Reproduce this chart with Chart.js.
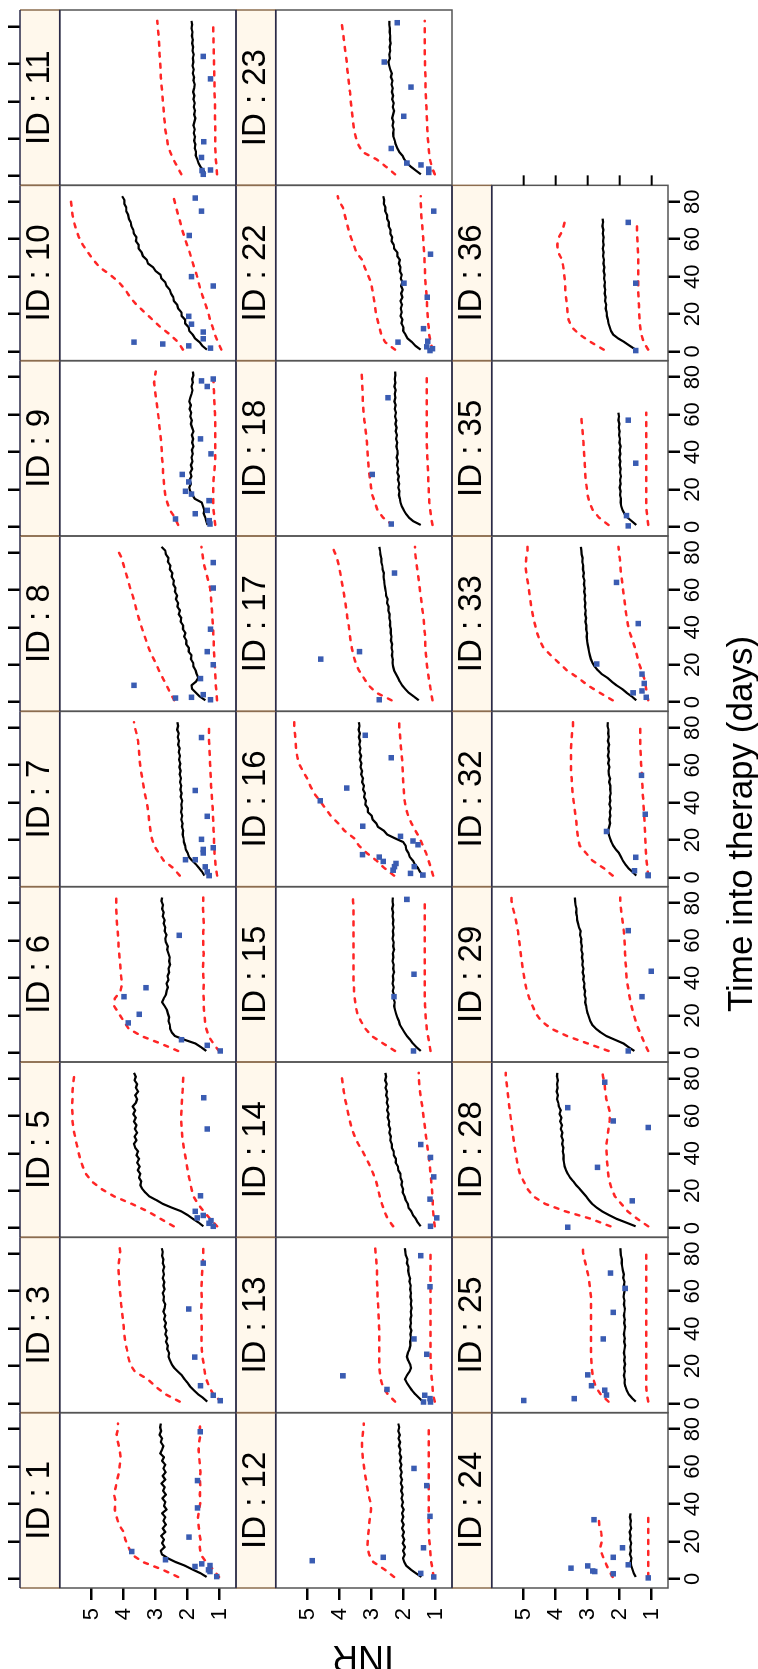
<!DOCTYPE html>
<html><head><meta charset="utf-8">
<script src="https://cdn.jsdelivr.net/npm/chart.js"></script>
<style>
html,body{margin:0;padding:0;background:#fff;}
body{width:758px;height:1669px;overflow:hidden;position:relative;}
#wrap{position:absolute;left:0;top:0;width:1669px;height:758px;transform-origin:0 0;transform:translate(0px,1669px) rotate(-90deg);}
canvas{display:block;}
</style></head><body>
<div id="wrap"><canvas id="c" width="1669" height="758" style="width:1669px;height:758px"></canvas></div>
<script>
// ---------- DATA ----------
const dayGrid = [1,3,5,7,9,11,13,15,17,19,21,23,25,27,29,31,33,35,37,39,41,43,45,47,49,51,53,55,57,59,61,63,65,67,69,71,73,75,77,79,81,83];
const bandDays = [1,5,9,13,17,21,25,29,33,37,41,45,49,53,57,61,65,69,73,77,81,83];
const inrTicks = [1,2,3,4,5];
const timeTicks = [0,20,40,60,80];
const panelRows = [[1,3,5,6,7,8,9,10,11],[12,13,14,15,16,17,18,22,23],[24,25,28,29,32,33,35,36]];

const black_1 = [1.41,1.6,1.85,2.08,2.38,2.62,2.8,2.84,2.72,2.8,2.74,2.83,2.7,2.78,2.68,2.76,2.7,2.8,2.66,2.74,2.7,2.79,2.68,2.77,2.72,2.82,2.7,2.78,2.69,2.76,2.7,2.8,2.74,2.86,2.8,2.76,2.84,2.8,2.88,2.83,2.86,2.84];
const upper_1 = [2.3,2.8,3.4,3.75,3.85,3.95,4.0,4.15,4.22,4.28,4.25,4.3,4.25,4.2,4.15,4.12,4.1,4.12,4.18,4.22,4.17,4.18];
const lower_1 = [1.02,1.2,1.42,1.6,1.62,1.6,1.64,1.66,1.68,1.64,1.6,1.62,1.6,1.62,1.6,1.62,1.64,1.66,1.64,1.6,1.62,1.6];
const obsDays_1 = [1.2,3.9,4.8,6.6,7.1,8.0,10.2,14.6,22.3,37.9,52.5,78.6];
const obsInr_1 = [1.09,1.3,1.35,1.77,1.3,1.56,2.69,3.75,1.96,1.69,1.69,1.61];

const black_3 = [1.39,1.52,1.68,1.8,1.92,2.0,2.1,2.18,2.3,2.42,2.5,2.55,2.6,2.58,2.64,2.62,2.68,2.64,2.7,2.66,2.72,2.68,2.74,2.7,2.76,2.72,2.7,2.76,2.74,2.78,2.72,2.76,2.73,2.78,2.74,2.77,2.73,2.78,2.76,2.8,2.78,2.81];
const upper_3 = [2.25,2.7,3.0,3.25,3.65,3.8,3.86,3.9,3.95,3.98,4.0,4.02,4.05,4.08,4.1,4.12,4.14,4.15,4.17,4.14,4.11,4.12];
const lower_3 = [0.96,1.2,1.33,1.42,1.47,1.5,1.54,1.56,1.57,1.57,1.56,1.57,1.58,1.57,1.56,1.57,1.56,1.55,1.54,1.52,1.51,1.51];
const obsDays_3 = [1.5,4.4,9.5,24.8,50.5,75];
const obsInr_3 = [0.98,1.2,1.6,1.78,1.97,1.51];

const black_5 = [1.51,1.66,1.84,2.0,2.2,2.5,2.78,2.98,3.2,3.32,3.42,3.48,3.45,3.52,3.48,3.56,3.5,3.58,3.52,3.6,3.55,3.64,3.68,3.6,3.66,3.58,3.65,3.6,3.68,3.62,3.7,3.64,3.72,3.62,3.58,3.64,3.55,3.62,3.58,3.66,3.62,3.68];
const upper_5 = [2.44,2.85,3.25,3.75,4.3,4.7,5.0,5.18,5.28,5.36,5.42,5.47,5.52,5.57,5.6,5.6,5.62,5.6,5.6,5.58,5.55,5.53];
const lower_5 = [1.08,1.3,1.5,1.68,1.82,1.88,1.93,1.98,2.02,2.06,2.1,2.14,2.17,2.19,2.2,2.2,2.19,2.18,2.16,2.15,2.14,2.13];
const obsDays_5 = [1,2.6,4,5.5,6.8,9,17.3,53,69.7];
const obsInr_5 = [1.2,1.33,1.27,1.7,1.51,1.76,1.6,1.39,1.5];

const black_6 = [1.42,1.58,1.76,2.1,2.4,2.5,2.55,2.56,2.6,2.58,2.62,2.65,2.72,2.8,2.75,2.68,2.66,2.62,2.66,2.6,2.63,2.58,2.6,2.55,2.58,2.56,2.6,2.64,2.62,2.68,2.7,2.66,2.72,2.7,2.75,2.72,2.78,2.75,2.8,2.77,2.82,2.8];
const upper_6 = [2.3,2.85,3.45,3.85,4.0,4.15,4.3,4.28,4.1,4.05,4.08,4.1,4.12,4.14,4.16,4.17,4.19,4.21,4.22,4.23,4.23,4.23];
const lower_6 = [1.02,1.2,1.35,1.42,1.46,1.48,1.5,1.5,1.51,1.5,1.51,1.52,1.51,1.5,1.51,1.52,1.51,1.5,1.51,1.52,1.51,1.51];
const obsDays_6 = [1,4,7,16,20.6,30,34.8,62.8];
const obsInr_6 = [0.98,1.39,2.19,3.86,3.51,3.99,3.3,2.26];

const black_7 = [1.48,1.55,1.64,1.74,1.86,1.96,2.0,2.06,2.08,2.12,2.13,2.16,2.14,2.18,2.16,2.2,2.17,2.21,2.18,2.2,2.17,2.22,2.19,2.23,2.2,2.24,2.21,2.25,2.22,2.26,2.23,2.27,2.24,2.28,2.25,2.3,2.27,2.31,2.28,2.33,2.3,2.32];
const upper_7 = [2.25,2.45,2.75,2.9,3.05,3.12,3.16,3.2,3.22,3.25,3.29,3.34,3.38,3.42,3.46,3.49,3.51,3.53,3.55,3.6,3.66,3.68];
const lower_7 = [1.08,1.12,1.14,1.16,1.17,1.18,1.19,1.2,1.21,1.22,1.24,1.25,1.27,1.28,1.29,1.3,1.31,1.32,1.33,1.33,1.33,1.33];
const obsDays_7 = [1,3,5.7,9.5,9.5,13.1,15,15.9,20.4,32.7,46.5,74.8];
const obsInr_7 = [1.33,1.39,1.45,2.07,1.76,1.51,1.51,1.2,1.57,1.39,1.76,1.57];

const black_8 = [1.45,1.62,1.74,1.86,1.88,1.74,1.67,1.72,1.75,1.82,1.83,1.9,1.88,1.97,1.96,2.05,2.04,2.11,2.07,2.15,2.14,2.22,2.2,2.28,2.24,2.32,2.3,2.37,2.33,2.4,2.38,2.45,2.43,2.5,2.48,2.56,2.54,2.62,2.6,2.68,2.7,2.82];
const upper_8 = [2.42,2.55,2.66,2.78,2.9,3.0,3.12,3.22,3.3,3.38,3.46,3.53,3.6,3.65,3.72,3.8,3.86,3.93,4.0,4.06,4.18,4.23];
const lower_8 = [1.08,1.1,1.12,1.13,1.14,1.16,1.17,1.18,1.19,1.2,1.21,1.23,1.24,1.26,1.28,1.3,1.36,1.42,1.48,1.52,1.56,1.57];
const obsDays_8 = [1.3,2.2,2.6,4,9,12.6,20,27,39,61,74.6];
const obsInr_8 = [1.29,2.38,1.88,1.51,3.68,1.6,1.2,1.39,1.29,1.2,1.2];

const black_9 = [1.38,1.42,1.45,1.5,1.48,1.52,1.56,1.78,1.85,1.92,1.95,1.9,1.94,1.88,1.92,1.86,1.9,1.85,1.88,1.84,1.87,1.82,1.86,1.83,1.87,1.82,1.86,1.9,1.87,1.92,1.89,1.94,1.9,1.95,1.92,1.88,1.85,1.88,1.84,1.86,1.82,1.84];
const upper_9 = [2.3,2.4,2.56,2.64,2.7,2.73,2.75,2.77,2.78,2.8,2.81,2.83,2.85,2.88,2.9,2.93,2.96,2.99,3.02,3.05,3.02,3.0];
const lower_9 = [1.14,1.17,1.19,1.2,1.2,1.2,1.19,1.17,1.15,1.14,1.14,1.14,1.14,1.14,1.14,1.15,1.16,1.17,1.18,1.19,1.2,1.2];
const obsDays_9 = [1.5,3.3,4.2,7,8.8,14,17.5,19,24,28,39,47,75,78,79];
const obsInr_9 = [1.3,1.33,2.38,1.76,1.39,1.33,1.88,2.07,1.97,2.17,1.27,1.6,1.39,1.57,1.2];

const black_10 = [1.4,1.54,1.63,1.77,1.84,1.95,1.97,2.08,2.08,2.19,2.2,2.3,2.33,2.43,2.45,2.52,2.56,2.66,2.7,2.82,2.85,3.0,3.08,3.24,3.28,3.4,3.44,3.53,3.53,3.62,3.6,3.68,3.7,3.76,3.78,3.84,3.86,3.92,3.92,3.98,3.98,4.05];
const upper_10 = [2.15,2.3,2.55,2.85,3.1,3.35,3.6,3.8,3.95,4.15,4.42,4.75,4.95,5.12,5.28,5.4,5.48,5.55,5.6,5.63,5.65,5.65];
const lower_10 = [0.95,1.05,1.15,1.22,1.3,1.36,1.44,1.52,1.6,1.66,1.72,1.8,1.87,1.94,2.02,2.1,2.17,2.23,2.3,2.36,2.42,2.45];
const obsDays_10 = [1.8,3,4,5,6.8,10.4,14.6,18.8,35,40,62,75,82];
const obsInr_10 = [1.29,1.97,2.78,3.68,1.51,1.51,1.88,1.97,1.2,1.88,1.95,1.57,1.76];

const black_11 = [1.45,1.5,1.6,1.66,1.7,1.75,1.74,1.78,1.76,1.8,1.77,1.81,1.78,1.82,1.79,1.76,1.8,1.77,1.81,1.78,1.82,1.79,1.83,1.8,1.78,1.82,1.8,1.84,1.81,1.85,1.82,1.84,1.81,1.85,1.83,1.86,1.84,1.87,1.85,1.88,1.86,1.88];
const upper_11 = [2.2,2.32,2.45,2.55,2.62,2.66,2.7,2.72,2.74,2.76,2.78,2.8,2.82,2.84,2.85,2.86,2.88,2.89,2.9,2.92,2.94,2.95];
const lower_11 = [1.08,1.1,1.12,1.13,1.14,1.14,1.14,1.14,1.15,1.15,1.15,1.16,1.16,1.17,1.17,1.18,1.18,1.19,1.19,1.2,1.2,1.2];
const obsDays_11 = [1,3,3.3,10,18.4,52,64];
const obsInr_11 = [1.51,1.55,1.29,1.57,1.5,1.29,1.51];

const black_12 = [1.45,1.62,1.78,1.92,1.98,2.02,1.97,2.02,1.96,2.03,1.98,2.04,1.99,2.05,2.0,2.06,2.01,2.05,2.0,2.06,2.02,2.07,2.03,2.08,2.04,2.09,2.05,2.1,2.06,2.11,2.07,2.12,2.08,2.13,2.1,2.15,2.11,2.16,2.12,2.17,2.14,2.17];
const upper_12 = [2.3,2.6,2.95,3.08,3.13,3.12,3.1,3.08,3.05,3.02,3.04,3.1,3.14,3.18,3.22,3.25,3.28,3.3,3.3,3.28,3.25,3.25];
const lower_12 = [1.06,1.1,1.14,1.16,1.18,1.2,1.21,1.22,1.22,1.22,1.22,1.22,1.22,1.22,1.22,1.22,1.22,1.22,1.22,1.22,1.22,1.22];
const obsDays_12 = [1,2.9,9.7,11.5,16.6,33.4,49.8,59];
const obsInr_12 = [1.06,1.47,4.86,2.64,1.38,1.18,1.28,1.68];

const black_13 = [1.4,1.52,1.64,1.74,1.82,1.9,1.96,1.9,1.82,1.77,1.8,1.86,1.9,1.87,1.82,1.79,1.8,1.77,1.79,1.76,1.8,1.77,1.79,1.76,1.78,1.75,1.78,1.76,1.79,1.77,1.8,1.78,1.82,1.8,1.84,1.86,1.85,1.9,1.88,1.93,1.95,1.96];
const upper_13 = [2.27,2.5,2.65,2.72,2.75,2.76,2.76,2.76,2.76,2.76,2.77,2.78,2.79,2.8,2.82,2.82,2.83,2.83,2.84,2.86,2.88,2.89];
const lower_13 = [1.03,1.08,1.1,1.12,1.14,1.15,1.16,1.16,1.16,1.16,1.16,1.16,1.16,1.16,1.16,1.16,1.16,1.16,1.16,1.16,1.16,1.16];
const obsDays_13 = [0.8,0.8,2.6,4.4,7.5,14.8,26.3,34.5,62.4,79];
const obsInr_13 = [1.38,1.16,1.18,1.34,2.52,3.9,1.28,1.68,1.18,1.47];

const black_14 = [1.47,1.56,1.62,1.71,1.76,1.85,1.87,1.94,1.97,2.03,2.02,2.07,2.05,2.1,2.1,2.17,2.18,2.25,2.24,2.31,2.31,2.37,2.37,2.42,2.4,2.45,2.42,2.47,2.45,2.5,2.47,2.52,2.48,2.53,2.5,2.55,2.52,2.57,2.53,2.58,2.55,2.57];
const upper_14 = [2.33,2.5,2.6,2.68,2.75,2.8,2.86,2.95,3.05,3.16,3.28,3.42,3.53,3.62,3.68,3.73,3.78,3.83,3.87,3.9,3.94,3.94];
const lower_14 = [1.03,1.06,1.08,1.09,1.1,1.12,1.14,1.16,1.18,1.21,1.24,1.27,1.3,1.33,1.36,1.39,1.42,1.46,1.49,1.51,1.53,1.53];
const obsDays_14 = [1,5.5,15.5,27.4,37.8,44.7];
const obsInr_14 = [1.16,0.97,1.18,1.06,1.16,1.47];

const black_15 = [1.47,1.6,1.71,1.8,1.9,1.98,2.05,2.12,2.15,2.2,2.24,2.27,2.3,2.28,2.32,2.3,2.34,2.31,2.35,2.32,2.34,2.3,2.33,2.31,2.35,2.32,2.34,2.3,2.33,2.31,2.35,2.32,2.34,2.31,2.34,2.32,2.35,2.33,2.36,2.33,2.35,2.34];
const upper_15 = [2.27,2.64,3.0,3.2,3.34,3.45,3.5,3.53,3.55,3.56,3.57,3.57,3.57,3.57,3.57,3.57,3.57,3.57,3.57,3.57,3.58,3.58];
const lower_15 = [1.16,1.2,1.24,1.28,1.3,1.32,1.33,1.34,1.34,1.34,1.34,1.34,1.34,1.34,1.34,1.34,1.34,1.34,1.34,1.34,1.34,1.34];
const obsDays_15 = [1,30,42,82];
const obsInr_15 = [1.69,2.3,1.68,1.9];

const black_16 = [1.38,1.49,1.55,1.65,1.71,1.81,1.85,1.92,1.94,2.02,2.28,2.52,2.62,2.8,2.86,2.97,3.0,3.12,3.12,3.2,3.18,3.24,3.21,3.27,3.24,3.3,3.27,3.33,3.3,3.35,3.32,3.37,3.33,3.38,3.35,3.39,3.36,3.4,3.37,3.41,3.38,3.4];
const upper_16 = [2.3,2.6,2.85,3.15,3.4,3.55,3.85,4.05,4.28,4.45,4.62,4.8,4.92,5.02,5.15,5.28,5.33,5.36,5.38,5.4,5.42,5.42];
const lower_16 = [1.08,1.15,1.22,1.3,1.4,1.5,1.63,1.76,1.86,1.93,1.97,1.99,2.01,2.02,2.03,2.04,2.06,2.08,2.1,2.12,2.14,2.14];
const obsDays_16 = [1.3,2.2,3.9,5.8,5.8,7.5,8.6,10.9,12.2,17.5,19.5,22,27.4,41,47.8,64,76];
const obsInr_16 = [1.4,1.79,2.33,2.29,1.67,2.24,2.64,2.76,3.29,1.55,1.71,2.1,3.28,4.61,3.78,2.39,3.2];

const black_17 = [1.53,1.68,1.84,1.95,2.05,2.12,2.18,2.24,2.3,2.33,2.35,2.34,2.37,2.35,2.38,2.36,2.4,2.38,2.41,2.4,2.43,2.42,2.45,2.44,2.48,2.47,2.52,2.5,2.55,2.56,2.58,2.6,2.61,2.63,2.62,2.66,2.67,2.7,2.7,2.73,2.74,2.76];
const upper_17 = [2.38,2.85,3.1,3.25,3.4,3.5,3.57,3.62,3.66,3.69,3.72,3.76,3.79,3.82,3.86,3.9,3.94,3.98,4.03,4.08,4.18,4.2];
const lower_17 = [1.1,1.14,1.18,1.22,1.25,1.28,1.3,1.32,1.33,1.34,1.36,1.38,1.41,1.44,1.47,1.5,1.53,1.56,1.59,1.62,1.65,1.65];
const obsDays_17 = [1.3,23,27,69];
const obsInr_17 = [2.76,4.59,3.38,2.29];

const black_18 = [1.47,1.7,1.84,1.93,2.0,2.06,2.1,2.12,2.15,2.13,2.17,2.14,2.18,2.15,2.2,2.17,2.21,2.18,2.22,2.19,2.2,2.23,2.2,2.24,2.21,2.25,2.22,2.26,2.23,2.27,2.24,2.28,2.25,2.29,2.26,2.28,2.25,2.29,2.26,2.28,2.26,2.27];
const upper_18 = [2.35,2.65,2.82,2.9,2.98,3.02,3.05,3.08,3.1,3.12,3.13,3.15,3.17,3.2,3.23,3.25,3.27,3.28,3.29,3.3,3.31,3.31];
const lower_18 = [1.1,1.14,1.17,1.2,1.21,1.22,1.23,1.24,1.25,1.26,1.27,1.28,1.28,1.28,1.28,1.28,1.28,1.28,1.28,1.28,1.28,1.28];
const obsDays_18 = [1.5,28,69];
const obsInr_18 = [2.39,2.98,2.49];

const black_22 = [1.47,1.63,1.74,1.88,1.94,2.02,2.01,2.07,2.04,2.1,2.06,2.09,2.05,2.1,2.04,2.08,2.03,2.08,2.04,2.09,2.06,2.12,2.1,2.15,2.12,2.2,2.2,2.3,2.31,2.38,2.36,2.42,2.41,2.47,2.46,2.52,2.52,2.58,2.57,2.62,2.61,2.64];
const upper_22 = [2.27,2.58,2.7,2.76,2.82,2.87,2.9,2.94,2.98,3.02,3.12,3.22,3.3,3.48,3.56,3.65,3.72,3.78,3.84,3.9,4.04,4.06];
const lower_22 = [1.1,1.16,1.2,1.22,1.24,1.26,1.27,1.28,1.3,1.32,1.33,1.34,1.35,1.36,1.38,1.39,1.41,1.43,1.45,1.46,1.47,1.47];
const obsDays_22 = [0.5,1.5,2.5,5,5.5,12.2,29,36.5,52,75];
const obsInr_22 = [1.18,1.1,1.28,2.18,1.25,1.38,1.26,1.99,1.16,1.06];

const black_23 = [1.46,1.62,1.77,1.9,1.98,2.04,2.14,2.2,2.25,2.28,2.32,2.33,2.31,2.35,2.32,2.36,2.33,2.3,2.34,2.31,2.36,2.33,2.37,2.34,2.38,2.35,2.4,2.37,2.42,2.45,2.48,2.43,2.45,2.42,2.44,2.41,2.43,2.42,2.44,2.43,2.45,2.45];
const upper_23 = [2.27,2.55,2.85,3.3,3.42,3.5,3.55,3.58,3.61,3.63,3.66,3.68,3.71,3.73,3.76,3.78,3.81,3.84,3.87,3.9,3.93,3.94];
const lower_23 = [1.03,1.12,1.18,1.21,1.23,1.25,1.26,1.27,1.28,1.29,1.3,1.31,1.32,1.32,1.33,1.33,1.34,1.34,1.34,1.34,1.34,1.34];
const obsDays_23 = [2,3.8,6,7,14.8,32,47.6,61,82];
const obsInr_23 = [1.22,1.22,1.46,1.9,2.39,2.0,1.77,2.61,2.2];

const black_24 = [1.5,1.56,1.6,1.64,1.66,1.63,1.68,1.65,1.67,1.64,1.68,1.66,1.69,1.64,1.67,1.65,1.68,1.66];
const upper_24 = [2.22,2.35,2.45,2.55,2.6,2.55,2.58,2.64,2.66];
const lower_24 = [1.11,1.11,1.11,1.11,1.11,1.11,1.11,1.11,1.11];
const obsDays_24 = [0.5,2.7,3.9,4.2,5.7,6.9,7.5,11.5,16.6,31.6];
const obsInr_24 = [1.11,2.2,2.78,2.84,3.52,3.0,1.73,2.2,1.91,2.8];

const black_25 = [1.5,1.62,1.72,1.78,1.82,1.85,1.84,1.87,1.84,1.86,1.83,1.86,1.84,1.87,1.85,1.83,1.86,1.84,1.87,1.85,1.83,1.86,1.84,1.87,1.85,1.84,1.87,1.85,1.88,1.86,1.84,1.87,1.85,1.89,1.87,1.9,1.92,1.94,1.93,1.96,1.97,1.98];
const upper_25 = [2.35,2.6,2.75,2.82,2.86,2.88,2.89,2.9,2.9,2.9,2.9,2.9,2.9,2.9,2.9,2.92,2.95,2.99,3.04,3.1,3.15,3.15];
const lower_25 = [1.11,1.15,1.17,1.17,1.17,1.17,1.17,1.17,1.17,1.17,1.17,1.17,1.17,1.17,1.17,1.17,1.17,1.17,1.17,1.17,1.17,1.17];
const obsDays_25 = [1.6,2.6,4.5,7.1,9.5,15.3,34.5,48.7,61.5,69.7];
const obsInr_25 = [5.0,3.42,2.41,2.47,2.88,3.0,2.51,2.2,1.83,2.29];

const black_28 = [1.5,1.8,2.1,2.33,2.55,2.72,2.86,2.96,3.05,3.15,3.25,3.36,3.45,3.55,3.62,3.68,3.72,3.74,3.76,3.75,3.78,3.76,3.8,3.77,3.82,3.79,3.84,3.8,3.86,3.82,3.88,3.84,3.9,3.92,3.96,3.93,3.97,3.94,3.96,3.93,3.96,3.95];
const upper_28 = [2.29,2.9,3.7,4.33,4.7,4.88,5.0,5.12,5.18,5.22,5.26,5.3,5.33,5.36,5.39,5.42,5.45,5.48,5.5,5.53,5.56,5.56];
const lower_28 = [1.11,1.45,1.75,1.95,2.15,2.25,2.32,2.36,2.38,2.4,2.41,2.41,2.38,2.35,2.32,2.3,2.35,2.42,2.45,2.47,2.52,2.53];
const obsDays_28 = [0.5,14.6,32.5,53.8,57.3,64.4,78];
const obsInr_28 = [3.62,1.61,2.69,1.11,2.2,3.62,2.47];

const black_29 = [1.54,1.72,1.88,2.15,2.42,2.6,2.75,2.86,2.92,2.96,3.0,3.03,3.05,3.08,3.06,3.1,3.08,3.12,3.1,3.14,3.12,3.16,3.13,3.17,3.15,3.18,3.16,3.2,3.18,3.21,3.2,3.24,3.22,3.27,3.3,3.33,3.34,3.36,3.35,3.38,3.39,3.4];
const upper_29 = [2.35,3.0,3.65,4.15,4.45,4.62,4.72,4.82,4.9,4.95,4.99,5.03,5.06,5.09,5.12,5.15,5.18,5.22,5.27,5.33,5.38,5.38];
const lower_29 = [1.11,1.22,1.32,1.42,1.5,1.57,1.63,1.68,1.72,1.76,1.79,1.8,1.82,1.83,1.84,1.85,1.87,1.9,1.93,1.96,1.98,1.98];
const obsDays_29 = [1,30,43.6,65.3];
const obsInr_29 = [1.73,1.3,1.01,1.73];

const black_32 = [1.48,1.6,1.73,1.82,1.9,1.96,2.02,2.12,2.2,2.26,2.3,2.34,2.36,2.33,2.3,2.32,2.29,2.31,2.28,2.32,2.29,2.31,2.28,2.3,2.29,2.33,2.3,2.34,2.35,2.32,2.36,2.33,2.37,2.34,2.36,2.33,2.37,2.34,2.36,2.35,2.38,2.37];
const upper_32 = [2.22,2.5,2.85,3.05,3.25,3.3,3.33,3.35,3.38,3.41,3.44,3.47,3.49,3.5,3.52,3.52,3.52,3.52,3.51,3.49,3.46,3.46];
const lower_32 = [1.11,1.13,1.16,1.18,1.19,1.2,1.21,1.22,1.23,1.25,1.26,1.28,1.29,1.3,1.31,1.33,1.34,1.35,1.36,1.36,1.36,1.36];
const obsDays_32 = [1,1.3,3.6,10.8,24.6,33.8,54.6];
const obsInr_32 = [1.11,1.11,1.54,1.5,2.41,1.2,1.32];

const black_33 = [1.48,1.62,1.78,1.92,2.1,2.25,2.38,2.56,2.68,2.78,2.85,2.9,2.93,2.96,2.98,3.0,3.02,3.03,3.02,3.05,3.04,3.07,3.05,3.08,3.06,3.09,3.07,3.1,3.08,3.11,3.09,3.12,3.1,3.14,3.12,3.15,3.14,3.17,3.16,3.19,3.2,3.21];
const upper_33 = [2.22,2.62,3.0,3.3,3.65,3.9,4.15,4.38,4.5,4.58,4.64,4.7,4.74,4.78,4.81,4.84,4.88,4.92,4.94,4.92,4.88,4.88];
const lower_33 = [1.11,1.15,1.19,1.24,1.32,1.4,1.46,1.52,1.6,1.68,1.74,1.78,1.81,1.84,1.87,1.9,1.93,1.96,1.98,2.0,2.03,2.04];
const obsDays_33 = [2.6,5,6,10,15,20.4,42,64];
const obsInr_33 = [1.17,1.58,1.3,1.23,1.3,2.72,1.42,2.1];

const black_35 = [1.48,1.62,1.76,1.85,1.91,1.95,1.97,1.96,1.99,1.97,2.0,1.97,1.99,1.96,1.99,1.97,2.0,1.98,2.01,1.98,2.0,1.97,2.01,1.99,2.02,2.0,2.03,2.01,2.04,2.02,2.04];
const upper_35 = [2.35,2.65,2.84,2.95,3.0,3.03,3.06,3.08,3.09,3.1,3.12,3.13,3.15,3.17,3.19,3.21];
const lower_35 = [1.11,1.14,1.16,1.17,1.17,1.17,1.17,1.17,1.17,1.17,1.17,1.17,1.17,1.17,1.17,1.17];
const obsDays_35 = [0.5,6,34,57];
const obsInr_35 = [1.73,1.79,1.5,1.73];

const black_36 = [1.5,1.68,1.85,2.05,2.2,2.27,2.31,2.35,2.37,2.4,2.41,2.44,2.42,2.46,2.44,2.47,2.45,2.48,2.46,2.49,2.47,2.5,2.48,2.51,2.49,2.52,2.5,2.53,2.5,2.52,2.5,2.53,2.51,2.54,2.52,2.53];
const upper_36 = [2.5,2.9,3.25,3.5,3.6,3.63,3.65,3.68,3.7,3.71,3.73,3.76,3.8,3.92,3.95,3.9,3.78,3.72];
const lower_36 = [1.11,1.25,1.32,1.36,1.38,1.39,1.4,1.41,1.42,1.42,1.42,1.42,1.42,1.43,1.44,1.45,1.46,1.46];
const obsDays_36 = [0.5,36.5,69];
const obsInr_36 = [1.5,1.5,1.73];

// ---------- TABLE FOR THE LIBRARY ----------
const series = {
  1:[black_1,upper_1,lower_1,obsDays_1,obsInr_1], 3:[black_3,upper_3,lower_3,obsDays_3,obsInr_3],
  5:[black_5,upper_5,lower_5,obsDays_5,obsInr_5], 6:[black_6,upper_6,lower_6,obsDays_6,obsInr_6],
  7:[black_7,upper_7,lower_7,obsDays_7,obsInr_7], 8:[black_8,upper_8,lower_8,obsDays_8,obsInr_8],
  9:[black_9,upper_9,lower_9,obsDays_9,obsInr_9], 10:[black_10,upper_10,lower_10,obsDays_10,obsInr_10],
  11:[black_11,upper_11,lower_11,obsDays_11,obsInr_11], 12:[black_12,upper_12,lower_12,obsDays_12,obsInr_12],
  13:[black_13,upper_13,lower_13,obsDays_13,obsInr_13], 14:[black_14,upper_14,lower_14,obsDays_14,obsInr_14],
  15:[black_15,upper_15,lower_15,obsDays_15,obsInr_15], 16:[black_16,upper_16,lower_16,obsDays_16,obsInr_16],
  17:[black_17,upper_17,lower_17,obsDays_17,obsInr_17], 18:[black_18,upper_18,lower_18,obsDays_18,obsInr_18],
  22:[black_22,upper_22,lower_22,obsDays_22,obsInr_22], 23:[black_23,upper_23,lower_23,obsDays_23,obsInr_23],
  24:[black_24,upper_24,lower_24,obsDays_24,obsInr_24], 25:[black_25,upper_25,lower_25,obsDays_25,obsInr_25],
  28:[black_28,upper_28,lower_28,obsDays_28,obsInr_28], 29:[black_29,upper_29,lower_29,obsDays_29,obsInr_29],
  32:[black_32,upper_32,lower_32,obsDays_32,obsInr_32], 33:[black_33,upper_33,lower_33,obsDays_33,obsInr_33],
  35:[black_35,upper_35,lower_35,obsDays_35,obsInr_35], 36:[black_36,upper_36,lower_36,obsDays_36,obsInr_36]
};

const FONT = "'Liberation Sans', Arial, Helvetica, sans-serif";
Chart.defaults.font.family = FONT;
const X_MIN = -4.9, X_MAX = 88.8;
const Y_MIN = 0.49, Y_PANEL_TOP = 6.0, Y_MAX = 7.24;
const RED = '#ff2626', BLUE = '#3a5cb2';

const pts = (xs, ys) => ys.map((v, i) => ({x: xs[i], y: v}));
const datasets = [];
panelRows.forEach((row, r) => row.forEach((id, c) => {
  const [bl, up, lo, od, ov] = series[id];
  const xAxisID = 'xb' + c, yAxisID = 'y' + r;
  const band = {showLine: true, borderColor: RED, borderWidth: 2.5, borderDash: [4, 7], borderCapStyle: 'round',
                pointRadius: 0, xAxisID, yAxisID, order: 3};
  datasets.push(Object.assign({label: 'upper ' + id, data: pts(bandDays, up)}, band));
  datasets.push(Object.assign({label: 'lower ' + id, data: pts(bandDays, lo)}, band));
  datasets.push({label: 'INR ' + id, data: pts(dayGrid, bl), showLine: true, borderColor: '#000', borderWidth: 2.2,
                 borderJoinStyle: 'round', pointRadius: 0, xAxisID, yAxisID, order: 2});
  datasets.push({label: 'obs ' + id, data: pts(od, ov), showLine: false, pointStyle: 'rect', pointRadius: 3.9,
                 backgroundColor: BLUE, borderWidth: 0, xAxisID, yAxisID, order: 1});
}));

const scales = {};
[2, 1, 0].forEach(r => {
  scales['y' + r] = {
    type: 'linear', axis: 'y', position: 'left', stack: 'rows', stackWeight: 1, min: Y_MIN, max: Y_MAX,
    afterBuildTicks: s => { s.ticks = inrTicks.map(v => ({value: v})); },
    afterFit: s => { s.width = 81; s.paddingTop = 0; s.paddingBottom = 0; },
    ticks: {autoSkip: false, color: '#000', font: {size: 22}, padding: 8},
    grid: {drawOnChartArea: false, drawTicks: true, tickLength: 12, tickWidth: 2.5, tickColor: '#000', lineWidth: 2.5},
    border: {display: false}
  };
});
for (let c = 0; c < 9; c++) {
  const shown = c < 8;
  scales['xb' + c] = {
    type: 'linear', axis: 'x', position: 'bottom', stack: 'colsB', stackWeight: 1, min: X_MIN, max: X_MAX,
    afterBuildTicks: s => { s.ticks = timeTicks.map(v => ({value: v})); },
    afterFit: s => { s.height = 90; s.paddingLeft = 0; s.paddingRight = 0; },
    ticks: {display: shown, autoSkip: false, maxRotation: 0, minRotation: 0, color: '#000', font: {size: 22}, padding: 0},
    grid: {display: shown, drawOnChartArea: false, drawTicks: true, tickLength: 12, tickWidth: 2.5, tickColor: '#000', lineWidth: 2.5},
    border: {display: false}
  };
}
for (let c = 0; c < 9; c++) {
  scales['xt' + c] = {
    type: 'linear', axis: 'x', position: 'top', stack: 'colsT', stackWeight: 1, min: X_MIN, max: X_MAX,
    afterBuildTicks: s => { s.ticks = timeTicks.map(v => ({value: v})); },
    afterFit: s => { s.height = 20; s.paddingLeft = 0; s.paddingRight = 0; },
    ticks: {display: false},
    grid: {drawOnChartArea: false, drawTicks: true, tickLength: 12, tickWidth: 2.5, tickColor: '#000', lineWidth: 2.5},
    border: {display: false}
  };
}

const panelFrames = {
  id: 'panelFrames',
  beforeDatasetsDraw(chart) {
    const ctx = chart.ctx;
    ctx.save();
    panelRows.forEach((row, r) => {
      const ys = chart.scales['y' + r];
      const top = ys.getPixelForValue(Y_MAX), mid = ys.getPixelForValue(Y_PANEL_TOP);
      row.forEach((id, c) => {
        const xs = chart.scales['xb' + c];
        ctx.fillStyle = '#fff8ec';
        ctx.fillRect(xs.left, top, xs.right - xs.left, mid - top);
      });
    });
    ctx.restore();
  },
  afterDatasetsDraw(chart) {
    const ctx = chart.ctx;
    ctx.save();
    panelRows.forEach((row, r) => {
      const ys = chart.scales['y' + r];
      const top = ys.getPixelForValue(Y_MAX), mid = ys.getPixelForValue(Y_PANEL_TOP), bot = ys.getPixelForValue(Y_MIN);
      row.forEach((id, c) => {
        const xs = chart.scales['xb' + c];
        const l = xs.left, rt = xs.right;
        ctx.lineWidth = 1.5;
        ctx.strokeStyle = '#555555';
        ctx.strokeRect(l, mid, rt - l, bot - mid);
        ctx.strokeStyle = '#8c6d4f';
        ctx.beginPath(); ctx.moveTo(l, top); ctx.lineTo(l, mid); ctx.moveTo(rt, top); ctx.lineTo(rt, mid); ctx.stroke();
        ctx.strokeStyle = '#2a2a4a';
        ctx.beginPath(); ctx.moveTo(l, top); ctx.lineTo(rt, top); ctx.moveTo(l, mid); ctx.lineTo(rt, mid); ctx.stroke();
        ctx.fillStyle = '#000';
        ctx.font = '33px ' + FONT;
        ctx.textAlign = 'center'; ctx.textBaseline = 'middle';
        ctx.fillText('ID : ' + id, (l + rt) / 2, (top + mid) / 2);
      });
    });
    // right-side INR ticks of the last panel in the bottom row
    const lastCol = panelRows[2].length - 1;
    const xr = chart.scales['xb' + lastCol].right, y2 = chart.scales['y2'];
    ctx.strokeStyle = '#000'; ctx.lineWidth = 2;
    inrTicks.forEach(v => { const y = y2.getPixelForValue(v); ctx.beginPath(); ctx.moveTo(xr, y); ctx.lineTo(xr + 10, y); ctx.stroke(); });
    // axis titles
    const area = chart.chartArea;
    ctx.fillStyle = '#000';
    ctx.textAlign = 'center'; ctx.textBaseline = 'middle';
    ctx.font = '35px ' + FONT;
    ctx.fillText('Time into therapy (days)', (area.left + area.right) / 2 - 25, chart.height - 16);
    ctx.save();
    ctx.translate(13, chart.height / 2 - 16);
    ctx.rotate(-Math.PI / 2);
    ctx.font = '36px ' + FONT;
    ctx.fillText('INR', 0, 0);
    ctx.restore();
    ctx.restore();
  }
};

new Chart(document.getElementById('c'), {
  type: 'scatter',
  data: {datasets},
  options: {
    responsive: false, maintainAspectRatio: false, devicePixelRatio: 1, animation: false, events: [],
    layout: {padding: {left: 0, top: 0, right: 10, bottom: 0}},
    plugins: {legend: {display: false}, tooltip: {enabled: false}, title: {display: false}},
    scales
  },
  plugins: [panelFrames]
});
</script></body></html>
